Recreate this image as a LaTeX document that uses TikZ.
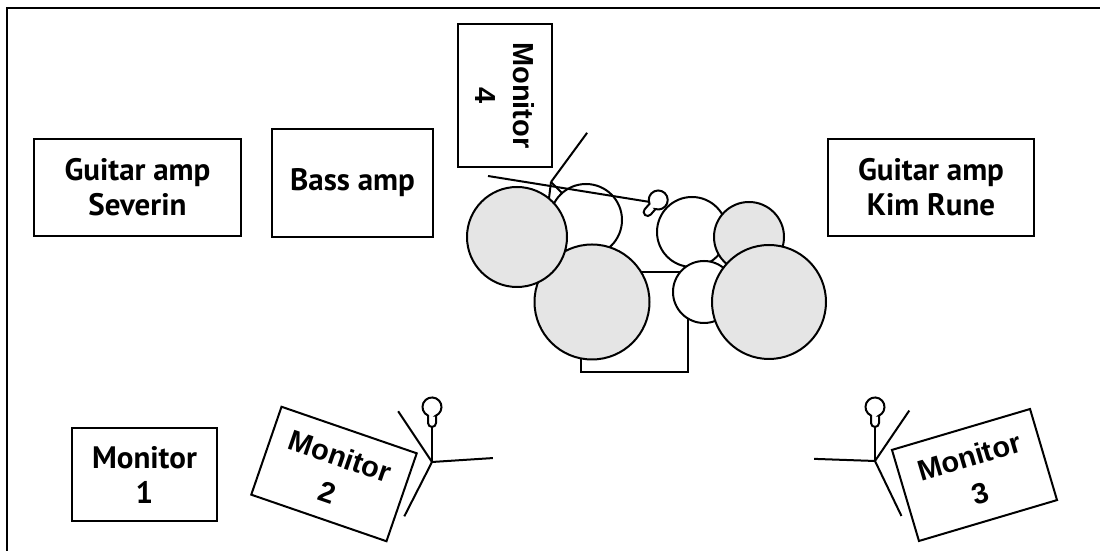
\documentclass[tikz,border=0pt]{standalone}
\usepackage{fontspec}
\setmainfont{PT Sans}
\newfontfamily\monfont{Liberation Sans}
\usetikzlibrary{calc,positioning}

\newcommand\MIC[3] {
    \begin{scope}[shift={#2},rotate=#3]
        \coordinate (#1) at (0,0);
        \draw[fill=white] (4,11.4) -- (4,4) arc (0:-180:4) -- (-4,11.4)
            arc (245.1:-65.1:9.5) -- cycle;
    \end{scope}
}
\newcommand\STAND[3] {
    \coordinate (#1) at #2;
    \foreach \a in {#3}
    {
        \draw (#1) -- ++(\a:61);
    }
}

\begin{document}
\begin{tikzpicture}[x=0.5pt, y=0.5pt, line width=1pt
    , box/.style={draw,rectangle,align=center,inner sep=0pt,font=\bfseries\fontsize{15.5}{17.5}\selectfont}
    , monbox/.style={box,font=\monfont\bfseries\fontsize{14.5}{19}\selectfont}
    , drum/.style={draw,circle,inner sep=0pt,fill=white}
    , shell/.style={drum,fill=gray!20}
    ]
    \useasboundingbox (0,0) rectangle (1100,551);
    \draw (7,0) -- (7,543) -- (1100,543);

    % Amps and monitors.
    \node[box,minimum width=103.5pt,minimum height=48.5pt] (ampseverin) at (137.5,363.5) {Guitar amp\\Severin};
    \node[box,minimum width=80.5pt,minimum height=54pt] (ampbass) at (352.5,368) {Bass amp};
    \node[box,minimum width=103pt,minimum height=48.5pt] (ampkim) at (931,363.5) {Guitar amp\\Kim Rune};
    \node[box,minimum width=72.5pt,minimum height=46.5pt] (mon1) at (144.5,76.5) {Monitor\\1};
    \node[monbox,rotate=-19,minimum width=71.5pt,minimum height=46.5pt] (mon2) at (334,77) {Monitor\\2};
    \node[monbox,rotate=16.5,minimum width=72pt,minimum height=47.5pt] (mon3) at (974.5,76) {Monitor\\3};
    \node[monbox,rotate=-90,minimum width=71.5pt,minimum height=47pt] (mon4) at (505,455.5) {Monitor\\4};

    % Drum kit.
    \STAND{hihat}{(551,369)}{53.7,-97,-45}
    \node[draw,fill=white,inner sep=0pt,minimum width=53.5pt,minimum height=50pt] (kick) at (634.5,229) {};
    \node[drum,minimum size=36pt] (tom1) at (586,331) {};
    \node[shell,minimum size=57.5pt] (floor1) at (592,249) {};
    \node[shell,minimum size=50pt] (crash) at (517,314) {};
    \node[drum,minimum size=35pt] (tom2) at (692,319) {};
    \node[shell,minimum size=35pt] (splash) at (749,314) {};
    \node[drum,minimum size=31pt] (tom3) at (704,259) {};
    \node[shell,minimum size=57pt] (ride) at (769,249) {};
    \coordinate (boomstart) at (488,375);
    \coordinate (boomend) at (650,349);
    \draw (boomstart) -- (boomend);
    \MIC{drummic}{(645,336)}{-41.4}

    % Vocal mics.
    \STAND{stand2}{(432,89)}{123.7,3.7,-117}
    \MIC{mic2}{(432,124)}{0}
    \draw (stand2) -- (mic2);
    \STAND{stand3}{(875,90)}{178,55.8,-64.3}
    \MIC{mic3}{(875,124)}{0}
    \draw (stand3) -- (mic3);
\end{tikzpicture}
\end{document}
